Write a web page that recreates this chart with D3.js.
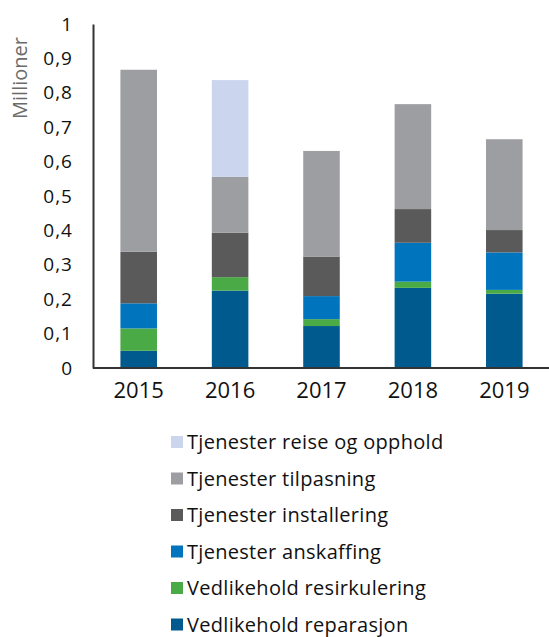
<!DOCTYPE html>
<html>
<head>
<meta charset="utf-8">
<script src="https://d3js.org/d3.v7.min.js"></script>
<style>
  body { margin: 0; background: #fff; }
  text { font-family: "Open Sans", sans-serif; }
</style>
</head>
<body>
<div id="chart"></div>
<script>
// years on the x axis
var years = ["2015", "2016", "2017", "2018", "2019"]

// series values in millions, bottom to top of each stack
var reparasjon   = [0.050, 0.225, 0.122, 0.233, 0.216]
var resirkulering = [0.065, 0.039, 0.020, 0.018, 0.011]
var anskaffing   = [0.073, 0.000, 0.067, 0.113, 0.109]
var installering = [0.150, 0.129, 0.115, 0.098, 0.065]
var tilpasning   = [0.529, 0.163, 0.307, 0.305, 0.264]
var reiseOpphold = [0.000, 0.281, 0.000, 0.000, 0.000]

var seriesNames = [
  "Vedlikehold reparasjon",
  "Vedlikehold resirkulering",
  "Tjenester anskaffing",
  "Tjenester installering",
  "Tjenester tilpasning",
  "Tjenester reise og opphold"
]
var seriesValues = [reparasjon, resirkulering, anskaffing, installering, tilpasning, reiseOpphold]
var colors = ["#005a8e", "#4aaa46", "#0075be", "#5a5a5a", "#9d9ea1", "#cbd6ee"]

var yTicks = [0, 0.1, 0.2, 0.3, 0.4, 0.5, 0.6, 0.7, 0.8, 0.9, 1]

var width = 549, height = 637
var plot = { left: 93, right: 550, top: 24, bottom: 368 }

var svg = d3.select("#chart").append("svg")
  .attr("width", width)
  .attr("height", height)

// build rows for the stack
var rows = years.map(function (y, i) {
  var r = { year: y }
  seriesNames.forEach(function (n, k) { r[n] = seriesValues[k][i] })
  return r
})
var stacked = d3.stack().keys(seriesNames)(rows)

var x = d3.scaleBand()
  .domain(years)
  .range([plot.left, plot.right])
  .paddingInner(0.6)
  .paddingOuter(0.3)

var y = d3.scaleLinear()
  .domain([0, 1])
  .range([plot.bottom, plot.top])

// bars
svg.selectAll(".layer")
  .data(stacked)
  .enter().append("g")
  .attr("class", "layer")
  .attr("fill", function (d, i) { return colors[i] })
  .selectAll("rect")
  .data(function (d) { return d })
  .enter().append("rect")
  .attr("x", function (d) { return x(d.data.year) })
  .attr("width", x.bandwidth())
  .attr("y", function (d) { return y(d[1]) })
  .attr("height", function (d) { return y(d[0]) - y(d[1]) })

// y axis
var yAxis = svg.append("g")
  .attr("transform", "translate(" + plot.left + ",0)")
  .call(d3.axisLeft(y).tickValues(yTicks).tickSize(0).tickPadding(20)
    .tickFormat(function (d) { return d3.format("")(d).replace(".", ",") }))
yAxis.select(".domain").attr("stroke", "#333").attr("stroke-width", 2)
yAxis.selectAll("text").attr("font-size", 19).attr("fill", "#111")
  .attr("font-family", "'Open Sans', sans-serif")
  .attr("letter-spacing", 1)

// x axis
var xAxis = svg.append("g")
  .attr("transform", "translate(0," + plot.bottom + ")")
  .call(d3.axisBottom(x).tickSize(0).tickPadding(14))
xAxis.select(".domain").attr("stroke", "#333").attr("stroke-width", 2)
  .attr("d", "M" + plot.left + ",0H" + plot.right)
xAxis.selectAll("text").attr("font-size", 22).attr("fill", "#111")
  .attr("font-family", "'Open Sans', sans-serif")

// y axis title
svg.append("text")
  .attr("transform", "translate(27,78) rotate(-90)")
  .attr("text-anchor", "middle")
  .attr("font-size", 20)
  .attr("fill", "#6b6b6b")
  .text("Millioner")

// legend, top entry is the last series
var legend = svg.append("g").attr("transform", "translate(171,442)")
var legendItems = seriesNames.slice().reverse()
var legendColors = colors.slice().reverse()
legendItems.forEach(function (name, i) {
  var g = legend.append("g").attr("transform", "translate(0," + (i * 36.5) + ")")
  g.append("rect")
    .attr("x", 0).attr("y", -6)
    .attr("width", 12).attr("height", 12)
    .attr("fill", legendColors[i])
  g.append("text")
    .attr("x", 16).attr("y", 0)
    .attr("dy", "0.35em")
    .attr("font-size", 20)
    .attr("letter-spacing", 0.3)
    .attr("fill", "#111")
    .text(name)
})
</script>
</body>
</html>
